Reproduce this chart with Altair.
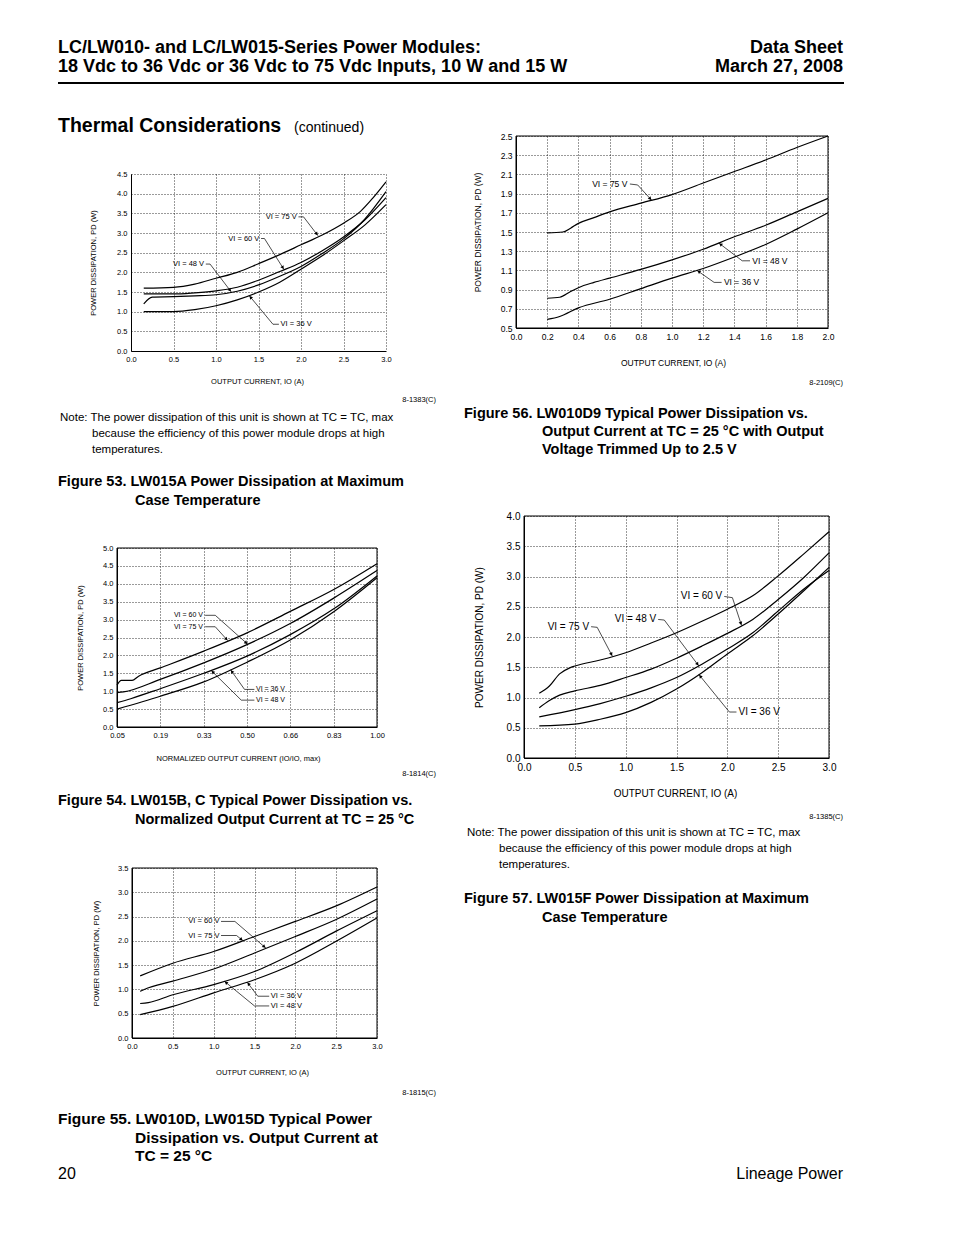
import math
import altair as alt
import pandas as pd

SANS = "Liberation Sans, Arial, Helvetica, sans-serif"
NARROW = "Liberation Sans Narrow, Arial Narrow, Liberation Sans, sans-serif"
YTITLE = "POWER DISSIPATION, PD (W)"

# ---------------- Figure 53 (LW015A) ----------------
f53_x75 = [0.15, 0.5, 0.75, 1.0, 1.25, 1.5, 1.75, 2.0, 2.25, 2.5, 2.7, 2.85, 3.0]
f53_y75 = [1.60, 1.62, 1.70, 1.85, 2.00, 2.22, 2.45, 2.70, 2.95, 3.25, 3.55, 3.90, 4.30]
f53_x60 = [0.15, 0.5, 0.75, 1.0, 1.25, 1.5, 1.75, 2.0, 2.25, 2.5, 2.75, 3.0]
f53_y60 = [1.45, 1.45, 1.48, 1.53, 1.62, 1.80, 2.02, 2.25, 2.55, 2.90, 3.33, 3.90]
f53_x48 = [0.15, 0.25, 0.5, 0.75, 1.0, 1.25, 1.5, 1.75, 2.0, 2.25, 2.5, 2.75, 3.0]
f53_y48 = [1.20, 1.37, 1.38, 1.40, 1.43, 1.52, 1.68, 1.90, 2.15, 2.48, 2.85, 3.35, 4.05]
f53_x36 = [0.15, 0.5, 0.75, 1.0, 1.25, 1.5, 1.75, 2.0, 2.25, 2.5, 2.75, 3.0]
f53_y36 = [1.00, 1.00, 1.05, 1.15, 1.30, 1.50, 1.75, 2.08, 2.42, 2.80, 3.20, 3.72]
f53_xticks = [0.0, 0.5, 1.0, 1.5, 2.0, 2.5, 3.0]
f53_yticks = [0.0, 0.5, 1.0, 1.5, 2.0, 2.5, 3.0, 3.5, 4.0, 4.5]
f53_labels = [
    ("VI = 75 V", 1.95, 3.41, "right", [(1.97, 3.41), (2.03, 3.41), (2.20, 2.93)]),
    ("VI = 60 V", 1.51, 2.86, "right", [(1.53, 2.86), (1.57, 2.86), (1.80, 2.07)]),
    ("VI = 48 V", 0.86, 2.21, "right", [(0.88, 2.21), (0.93, 2.21), (1.18, 1.50)]),
    ("VI = 36 V", 1.76, 0.68, "left", [(1.74, 0.68), (1.67, 0.68), (1.39, 1.41)]),
]

# ---------------- Figure 56 (LW010D9) ----------------
f56_x75 = [0.2, 0.3, 0.35, 0.4, 0.5, 0.6, 0.8, 1.0, 1.2, 1.4, 1.6, 1.8, 2.0]
f56_y75 = [1.49, 1.50, 1.54, 1.59, 1.65, 1.71, 1.80, 1.89, 2.01, 2.13, 2.25, 2.38, 2.50]
f56_x48 = [0.2, 0.28, 0.35, 0.4, 0.5, 0.6, 0.8, 1.0, 1.2, 1.4, 1.6, 1.8, 2.0]
f56_y48 = [0.81, 0.82, 0.88, 0.92, 0.975, 1.02, 1.11, 1.21, 1.32, 1.45, 1.57, 1.71, 1.85]
f56_x36 = [0.2, 0.28, 0.4, 0.6, 0.8, 1.0, 1.2, 1.4, 1.6, 1.8, 2.0]
f56_y36 = [0.59, 0.62, 0.71, 0.80, 0.91, 1.02, 1.12, 1.24, 1.37, 1.53, 1.70]
f56_xticks = [0.0, 0.2, 0.4, 0.6, 0.8, 1.0, 1.2, 1.4, 1.6, 1.8, 2.0]
f56_yticks = [0.5, 0.7, 0.9, 1.1, 1.3, 1.5, 1.7, 1.9, 2.1, 2.3, 2.5]
f56_labels = [
    ("VI = 75 V", 0.714, 2.00, "right", [(0.73, 2.00), (0.78, 1.99), (0.87, 1.83)]),
    ("VI = 48 V", 1.515, 1.20, "left", [(1.50, 1.20), (1.45, 1.20), (1.30, 1.385)]),
    ("VI = 36 V", 1.333, 0.975, "left", [(1.318, 0.975), (1.27, 0.975), (1.16, 1.10)]),
]

# ---------------- Figure 54 (LW015B, C) ----------------
f54_x75 = [0.05, 0.066, 0.105, 0.129, 0.208, 0.367, 0.525, 0.683, 0.842, 1.0]
f54_y75 = [1.17, 1.30, 1.30, 1.42, 1.65, 2.12, 2.63, 3.23, 3.84, 4.56]
f54_x60 = [0.05, 0.074, 0.208, 0.367, 0.525, 0.683, 0.842, 1.0]
f54_y60 = [0.96, 0.98, 1.33, 1.79, 2.30, 2.89, 3.60, 4.37]
f54_x48 = [0.05, 0.10, 0.208, 0.367, 0.525, 0.683, 0.842, 1.0]
f54_y48 = [0.68, 0.79, 1.07, 1.50, 1.98, 2.58, 3.30, 4.22]
f54_x36 = [0.05, 0.208, 0.367, 0.525, 0.683, 0.842, 1.0]
f54_y36 = [0.50, 0.86, 1.26, 1.81, 2.43, 3.22, 4.17]
f54_xticks = [0.05, 0.2083, 0.3667, 0.525, 0.6833, 0.8417, 1.0]
f54_xticklabels = ["0.05", "0.19", "0.33", "0.50", "0.66", "0.83", "1.00"]
f54_yticks = [0.0, 0.5, 1.0, 1.5, 2.0, 2.5, 3.0, 3.5, 4.0, 4.5, 5.0]
f54_labels = [
    ("VI = 60 V", 0.364, 3.12, "right", [(0.372, 3.12), (0.409, 3.12), (0.528, 2.31)]),
    ("VI = 75 V", 0.364, 2.80, "right", [(0.372, 2.80), (0.409, 2.80), (0.455, 2.41)]),
    ("VI = 36 V", 0.558, 1.05, "left", [(0.552, 1.05), (0.516, 1.05), (0.465, 1.60)]),
    ("VI = 48 V", 0.558, 0.75, "left", [(0.552, 0.75), (0.504, 0.75), (0.394, 1.58)]),
]

# ---------------- Figure 55 (LW010D, LW015D) ----------------
f55_x75 = [0.1, 0.5, 1.0, 1.5, 2.0, 2.5, 3.0]
f55_y75 = [1.28, 1.54, 1.78, 2.09, 2.40, 2.72, 3.11]
f55_x60 = [0.1, 0.15, 0.5, 1.0, 1.5, 2.0, 2.5, 3.0]
f55_y60 = [0.96, 1.00, 1.17, 1.42, 1.75, 2.09, 2.44, 2.86]
f55_x48 = [0.1, 0.2, 0.5, 1.0, 1.5, 2.0, 2.5, 3.0]
f55_y48 = [0.71, 0.73, 0.89, 1.10, 1.37, 1.76, 2.20, 2.62]
f55_x36 = [0.1, 0.5, 1.0, 1.5, 2.0, 2.5, 3.0]
f55_y36 = [0.48, 0.65, 0.93, 1.20, 1.54, 1.99, 2.47]
f55_xticks = [0.0, 0.5, 1.0, 1.5, 2.0, 2.5, 3.0]
f55_yticks = [0.0, 0.5, 1.0, 1.5, 2.0, 2.5, 3.0, 3.5]
f55_labels = [
    ("VI = 60 V", 1.07, 2.40, "right", [(1.09, 2.40), (1.26, 2.40), (1.64, 1.85)]),
    ("VI = 75 V", 1.07, 2.11, "right", [(1.09, 2.11), (1.28, 2.11), (1.36, 2.00)]),
    ("VI = 36 V", 1.70, 0.86, "left", [(1.68, 0.86), (1.54, 0.86), (1.41, 1.15)]),
    ("VI = 48 V", 1.70, 0.66, "left", [(1.68, 0.66), (1.50, 0.66), (1.13, 1.17)]),
]

# ---------------- Figure 57 (LW015F) ----------------
f57_x75 = [0.15, 0.25, 0.35, 0.45, 0.5, 0.75, 1.0, 1.25, 1.5, 1.75, 2.0, 2.25, 2.5, 2.75, 3.0]
f57_y75 = [1.07, 1.19, 1.39, 1.49, 1.52, 1.62, 1.74, 1.90, 2.07, 2.26, 2.46, 2.68, 3.01, 3.37, 3.74]
f57_x60 = [0.15, 0.25, 0.35, 0.5, 0.75, 1.0, 1.25, 1.5, 1.75, 2.0, 2.25, 2.5, 2.75, 3.0]
f57_y60 = [0.83, 0.95, 1.04, 1.11, 1.20, 1.33, 1.47, 1.65, 1.85, 2.06, 2.29, 2.62, 2.98, 3.39]
f57_x48 = [0.15, 0.5, 0.75, 1.0, 1.25, 1.5, 1.75, 2.0, 2.25, 2.5, 2.75, 3.0]
f57_y48 = [0.68, 0.80, 0.90, 1.02, 1.16, 1.33, 1.55, 1.80, 2.07, 2.43, 2.79, 3.10]
f57_x36 = [0.15, 0.5, 0.75, 1.0, 1.25, 1.5, 1.75, 2.0, 2.25, 2.5, 2.75, 3.0]
f57_y36 = [0.53, 0.56, 0.64, 0.75, 0.92, 1.14, 1.41, 1.72, 2.02, 2.38, 2.76, 3.15]
f57_xticks = [0.0, 0.5, 1.0, 1.5, 2.0, 2.5, 3.0]
f57_yticks = [0.0, 0.5, 1.0, 1.5, 2.0, 2.5, 3.0, 3.5, 4.0]
f57_labels = [
    ("VI = 60 V", 1.95, 2.67, "right", [(1.97, 2.67), (2.05, 2.65), (2.14, 2.19)]),
    ("VI = 48 V", 1.30, 2.29, "right", [(1.32, 2.29), (1.38, 2.28), (1.72, 1.52)]),
    ("VI = 75 V", 0.64, 2.17, "right", [(0.66, 2.17), (0.72, 2.16), (0.87, 1.68)]),
    ("VI = 36 V", 2.11, 0.76, "left", [(2.09, 0.76), (2.02, 0.76), (1.72, 1.38)]),
]

NOTE1 = "Note: The power dissipation of this unit is shown at TC = TC, max"
NOTE2 = "because the efficiency of this power module drops at high"
NOTE3 = "temperatures."

DUMMY = pd.DataFrame({"k": [0]})


def txt(t, px, py, origin, size, weight="normal", align="left", font=SANS):
    ox, oy = origin
    return alt.Chart(DUMMY).mark_text(
        text=t, align=align, baseline="alphabetic", fontSize=size,
        fontWeight=weight, font=font, color="black"
    ).encode(x=alt.value(px - ox), y=alt.value(py - oy))


def panel(curves, labels, xdom, ydom, w, h, origin, xticks, yticks, fs, lfs,
          xtitle, xtitle_c, ytitle_cx, frame, extras, label_expr=None):
    ox, oy = origin
    sx = w / (xdom[1] - xdom[0])
    sy = h / (ydom[1] - ydom[0])
    rows = []
    for name, (xs, ys) in curves.items():
        for i, (a, b) in enumerate(zip(xs, ys)):
            rows.append({"s": name, "x": a, "y": b, "o": i})
    dfc = pd.DataFrame(rows)
    lead, arr, labl, labr = [], [], [], []
    for k, (t, tx, ty, al, pts) in enumerate(labels):
        (labr if al == "right" else labl).append({"x": tx, "y": ty, "t": t})
        for i, (a, b) in enumerate(pts):
            lead.append({"id": k, "x": a, "y": b, "o": i})
        (x1, y1), (x2, y2) = pts[-2], pts[-1]
        dx, dy = (x2 - x1) * sx, (y2 - y1) * sy
        L = math.hypot(dx, dy)
        ang = math.degrees(math.atan2(dx, dy)) % 360
        arr.append({"x": x2 - dx / L * 2.2 / sx, "y": y2 - dy / L * 2.2 / sy, "ang": ang})
    common = dict(grid=True, gridColor="black", gridDash=[1, 2], gridWidth=0.8,
                  domainColor="black", domainWidth=1, ticks=False, tickSize=0,
                  labelPadding=4, labelFont=SANS, labelFontSize=fs, labelColor="black",
                  titleFont=SANS, titleFontSize=fs, titleFontWeight="normal",
                  titleColor="black", labelFlush=False, titleBaseline="middle",
                  titleAlign="center")
    xkw = dict(values=xticks, format=".1f", title=xtitle,
               titleX=xtitle_c[0] - ox, titleY=xtitle_c[1] - (oy + h), **common)
    if label_expr:
        xkw["labelExpr"] = label_expr
    xaxis = alt.Axis(**xkw)
    yaxis = alt.Axis(values=yticks, format=".1f", title=YTITLE, titleAngle=270,
                     titleX=ytitle_cx - ox, titleY=h / 2, **common)
    X = alt.X("x:Q", scale=alt.Scale(domain=xdom, nice=False, zero=False), axis=xaxis)
    Y = alt.Y("y:Q", scale=alt.Scale(domain=ydom, nice=False, zero=False), axis=yaxis)
    layers = [
        alt.Chart(dfc).mark_line(color="black", strokeWidth=1.2, interpolate="monotone")
        .encode(x=X, y=Y, detail="s:N", order="o:Q"),
        alt.Chart(pd.DataFrame(lead)).mark_line(color="black", strokeWidth=0.7)
        .encode(x=X, y=Y, detail="id:N", order="o:Q"),
        alt.Chart(pd.DataFrame(arr)).mark_point(shape="triangle-up", filled=True,
                                                color="black", size=14, opacity=1)
        .encode(x=X, y=Y, angle=alt.Angle("ang:Q", scale=None)),
        alt.Chart(pd.DataFrame(labr)).mark_text(align="right", baseline="middle",
                                                fontSize=lfs, font=SANS, color="black")
        .encode(x=X, y=Y, text="t:N"),
        alt.Chart(pd.DataFrame(labl)).mark_text(align="left", baseline="middle",
                                                fontSize=lfs, font=SANS, color="black")
        .encode(x=X, y=Y, text="t:N"),
    ]
    if frame:
        layers.append(alt.Chart(DUMMY).mark_rect(fillOpacity=0, stroke="black", strokeWidth=1)
                      .encode(x=alt.value(0), x2=alt.value(w), y=alt.value(0), y2=alt.value(h)))
    for e in extras:
        if isinstance(e, tuple):
            layers.append(txt(e[0], e[1], e[2], origin, *e[3:]))
        else:
            layers.append(e)
    return alt.layer(*layers).properties(width=w, height=h)


def spacer(w, h):
    return alt.Chart(DUMMY).mark_point(opacity=0).encode(
        x=alt.value(0), y=alt.value(0)).properties(width=w, height=h)


# ---------- panel geometry (page pixels) ----------
O1, W1, H1 = (130, 173), 255, 177
O2, W2, H2 = (515, 135), 312, 192
O3, W3, H3 = (116, 547), 260, 179
O4, W4, H4 = (131, 867), 245, 170
O5, W5, H5 = (523, 515), 305, 242

anchor = alt.Chart(DUMMY).mark_rect(color="white").encode(
    x=alt.value(8 - O1[0]), x2=alt.value(10 - O1[0]),
    y=alt.value(8 - O1[1]), y2=alt.value(10 - O1[1]))
header_rule = alt.Chart(DUMMY).mark_rule(color="black", strokeWidth=2).encode(
    x=alt.value(57 - O1[0]), x2=alt.value(843 - O1[0]), y=alt.value(82 - O1[1]))

c1_extras = [
    anchor, header_rule,
    ("LC/LW010-  and LC/LW015-Series Power Modules:", 57, 52, 18, "bold", "left", NARROW),
    ("18 Vdc to 36 Vdc or 36 Vdc to 75 Vdc Inputs, 10 W and 15 W", 57, 71, 18, "bold", "left", NARROW),
    ("Data Sheet", 842, 52, 18, "bold", "right", NARROW),
    ("March 27, 2008", 842, 71, 18, "bold", "right", NARROW),
    ("Thermal Considerations", 57, 131, 19.5, "bold", "left", SANS),
    ("(continued)", 293, 131, 14, "normal", "left", SANS),
    ("8-1383(C)", 435, 401, 7.5, "normal", "right", SANS),
    (NOTE1, 59, 420, 11.5, "normal", "left", SANS),
    (NOTE2, 91, 436, 11.5, "normal", "left", SANS),
    (NOTE3, 91, 452, 11.5, "normal", "left", SANS),
    ("Figure 53. LW015A Power Dissipation at Maximum", 57, 485, 14.5, "bold", "left", SANS),
    ("Case Temperature", 134, 504, 14.5, "bold", "left", SANS),
]
c1 = panel({"75": (f53_x75, f53_y75), "60": (f53_x60, f53_y60),
            "48": (f53_x48, f53_y48), "36": (f53_x36, f53_y36)},
           f53_labels, [0, 3], [0, 4.5], W1, H1, O1, f53_xticks, f53_yticks, 7.5, 7.5,
           "OUTPUT CURRENT, IO (A)", (256, 380), 92, False, c1_extras)

c2_extras = [
    ("8-2109(C)", 842, 384, 7.5, "normal", "right", SANS),
    ("Figure 56. LW010D9 Typical Power Dissipation vs.", 463, 417, 14.5, "bold", "left", SANS),
    ("Output Current at TC = 25 °C with Output", 541, 435, 14.5, "bold", "left", SANS),
    ("Voltage Trimmed Up to 2.5 V", 541, 453, 14.5, "bold", "left", SANS),
]
c2 = panel({"75": (f56_x75, f56_y75), "48": (f56_x48, f56_y48), "36": (f56_x36, f56_y36)},
           f56_labels, [0, 2], [0.5, 2.5], W2, H2, O2, f56_xticks, f56_yticks, 8.5, 8.5,
           "OUTPUT CURRENT, IO (A)", (672, 361), 476, True, c2_extras)

expr = "datum.value < 0.1 ? '0.05' : datum.value < 0.3 ? '0.19' : datum.value < 0.45 ? '0.33' : datum.value < 0.6 ? '0.50' : datum.value < 0.76 ? '0.66' : datum.value < 0.92 ? '0.83' : '1.00'"
c3_extras = [
    ("8-1814(C)", 435, 775, 7.5, "normal", "right", SANS),
    ("Figure 54. LW015B, C Typical Power Dissipation vs.", 57, 804, 14.5, "bold", "left", SANS),
    ("Normalized Output Current at TC = 25 °C", 134, 823, 14.5, "bold", "left", SANS),
]
c3 = panel({"75": (f54_x75, f54_y75), "60": (f54_x60, f54_y60),
            "48": (f54_x48, f54_y48), "36": (f54_x36, f54_y36)},
           f54_labels, [0.05, 1.0], [0, 5], W3, H3, O3, f54_xticks, f54_yticks, 7.5, 7,
           "NORMALIZED OUTPUT CURRENT (IO/IO, max)", (237, 757), 79, True, c3_extras,
           label_expr=expr)

c4_extras = [
    ("8-1815(C)", 435, 1094, 7.5, "normal", "right", SANS),
    ("Figure 55. LW010D, LW015D Typical Power", 57, 1123, 15.5, "bold", "left", NARROW),
    ("Dissipation vs. Output Current at", 134, 1142, 15.5, "bold", "left", NARROW),
    ("TC = 25 °C", 134, 1160, 15.5, "bold", "left", NARROW),
    ("20", 57, 1178, 16, "normal", "left", NARROW),
    ("Lineage Power", 842, 1178, 16, "normal", "right", NARROW),
]
c4 = panel({"75": (f55_x75, f55_y75), "60": (f55_x60, f55_y60),
            "48": (f55_x48, f55_y48), "36": (f55_x36, f55_y36)},
           f55_labels, [0, 3], [0, 3.5], W4, H4, O4, f55_xticks, f55_yticks, 7.5, 7.5,
           "OUTPUT CURRENT, IO (A)", (261, 1071), 95, True, c4_extras)

c5_extras = [
    ("8-1385(C)", 842, 818, 7.5, "normal", "right", SANS),
    (NOTE1, 466, 835, 11.5, "normal", "left", SANS),
    (NOTE2, 498, 851, 11.5, "normal", "left", SANS),
    (NOTE3, 498, 867, 11.5, "normal", "left", SANS),
    ("Figure 57. LW015F Power Dissipation at Maximum", 463, 902, 14.5, "bold", "left", SANS),
    ("Case Temperature", 541, 921, 14.5, "bold", "left", SANS),
]
c5 = panel({"75": (f57_x75, f57_y75), "60": (f57_x60, f57_y60),
            "48": (f57_x48, f57_y48), "36": (f57_x36, f57_y36)},
           f57_labels, [0, 3], [0, 4], W5, H5, O5, f57_xticks, f57_yticks, 10, 10,
           "OUTPUT CURRENT, IO (A)", (674, 792), 478, True, c5_extras)

# With "flush" bounds a nested concat counts as size 0 in its parent layout,
# so the following spacer / spacing carries the full offset.
left = alt.vconcat(
    spacer(1, O1[1] - O2[1]),
    alt.hconcat(spacer(O1[0] - O3[0], H1), c1, spacing=0, bounds="flush"),
    spacer(1, O3[1] - O1[1]),
    c3,
    spacer(1, O4[1] - (O3[1] + H3)),
    alt.hconcat(spacer(O4[0] - O3[0], H4), c4, spacing=0, bounds="flush"),
    spacing=0, bounds="flush")
right = alt.vconcat(
    c2,
    spacer(1, O5[1] - (O2[1] + H2)),
    alt.hconcat(spacer(O5[0] - O2[0], H5), c5, spacing=0, bounds="flush"),
    spacing=0, bounds="flush")

chart = alt.hconcat(left, right, spacing=O2[0] - O3[0], bounds="flush",
                    padding=0, background="white").configure_view(stroke="transparent")

chart.save("out.html", embed_options={"renderer": "svg", "actions": False})
